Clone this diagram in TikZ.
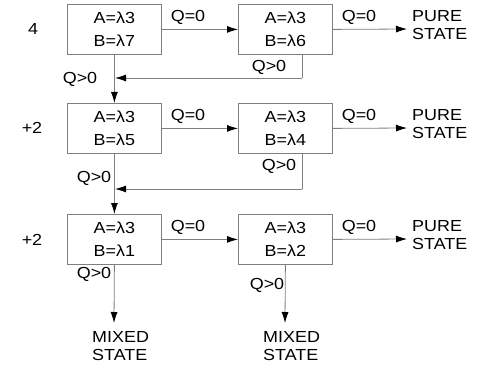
\documentclass[tikz,border=0pt]{standalone}
\usepackage{fontspec}
\setmainfont[FakeStretch=1.12]{Liberation Sans}
\usetikzlibrary{arrows.meta}
\definecolor{ln}{HTML}{7F7F7F}
\begin{document}
\begin{tikzpicture}[x=1pt,y=-1pt,
  every node/.style={font=\fontsize{16}{18}\selectfont, inner sep=0pt},
  box/.style={draw=ln, line width=0.8pt, minimum width=94pt, minimum height=50pt, anchor=north west},
  conn/.style={draw=ln, line width=0.8pt, -{Latex[length=11pt,width=7pt,color=black]}},
  plain/.style={draw=ln, line width=0.8pt},
  lbl/.style={anchor=base},
  st/.style={align=left, anchor=west, font=\fontsize{16}{17.5}\selectfont}]
\useasboundingbox (0,0) rectangle (477,369);
% boxes
\node[box] (b7) at (67,4) {};
\node[box] (b6) at (238,4) {};
\node[box] (b5) at (67,103) {};
\node[box] (b4) at (238,103) {};
\node[box] (b1) at (67,214) {};
\node[box] (b2) at (238,214) {};
% box texts
\foreach \n/\b in {b7/7,b6/6,b5/5,b4/4,b1/1,b2/2}{
  \node[lbl] at ([yshift=-19.5pt]\n.north) {A=λ3};
  \node[lbl] at ([yshift=-42.5pt]\n.north) {B=λ\b};
}
% row labels
\node (r1) at (33,29) {4};
\node (r2) at (32,128) {+2};
\node (r3) at (32,240) {+2};
% pure states
\node[st] (p1) at (412,25) {PURE\\STATE};
\node[st] (p2) at (412,124) {PURE\\STATE};
\node[st] (p3) at (412,235) {PURE\\STATE};
% mixed states
\node[st] (m1) at (92,346) {MIXED\\STATE};
\node[st] (m2) at (263,346) {MIXED\\STATE};
% coordinates
\coordinate (t1) at (407,29);
\coordinate (t2) at (407,128);
\coordinate (t3) at (407,239);
\coordinate (e1) at (114,323);
\coordinate (e2) at (285,323);
\coordinate (f1a) at (302,54);
\coordinate (f1b) at (302,78);
\coordinate (f1c) at (115,78);
\coordinate (f2a) at (302,153);
\coordinate (f2b) at (302,189);
\coordinate (f2c) at (115,189);
% horizontal arrows
\draw[conn] (b7.east) -- (b6.west);
\draw[conn] (b6.east) -- (t1);
\draw[conn] (b5.east) -- (b4.west);
\draw[conn] (b4.east) -- (t2);
\draw[conn] (b1.east) -- (b2.west);
\draw[conn] (b2.east) -- (t3);
% Q=0 labels
\node (q1) at (188,17) {Q=0};
\node (q2) at (359,17) {Q=0};
\node (q3) at (188,116) {Q=0};
\node (q4) at (359,116) {Q=0};
\node (q5) at (188,227) {Q=0};
\node (q6) at (359,227) {Q=0};
% vertical arrows
\draw[conn] (b7.south) -- (b5.north);
\draw[conn] (b5.south) -- (b1.north);
\draw[conn] (b1.south) -- (e1);
\draw[conn] (b2.south) -- (e2);
% feedback
\draw[plain] (f1a) -- (f1b);
\draw[conn] (f1b) -- (f1c);
\draw[plain] (f2a) -- (f2b);
\draw[conn] (f2b) -- (f2c);
% Q>0 labels
\node (g1) at (80,79) {Q>0};
\node (g2) at (269,67) {Q>0};
\node (g3) at (94,178) {Q>0};
\node (g4) at (279,166) {Q>0};
\node (g5) at (94,274) {Q>0};
\node (g6) at (267,285) {Q>0};
\end{tikzpicture}
\end{document}
